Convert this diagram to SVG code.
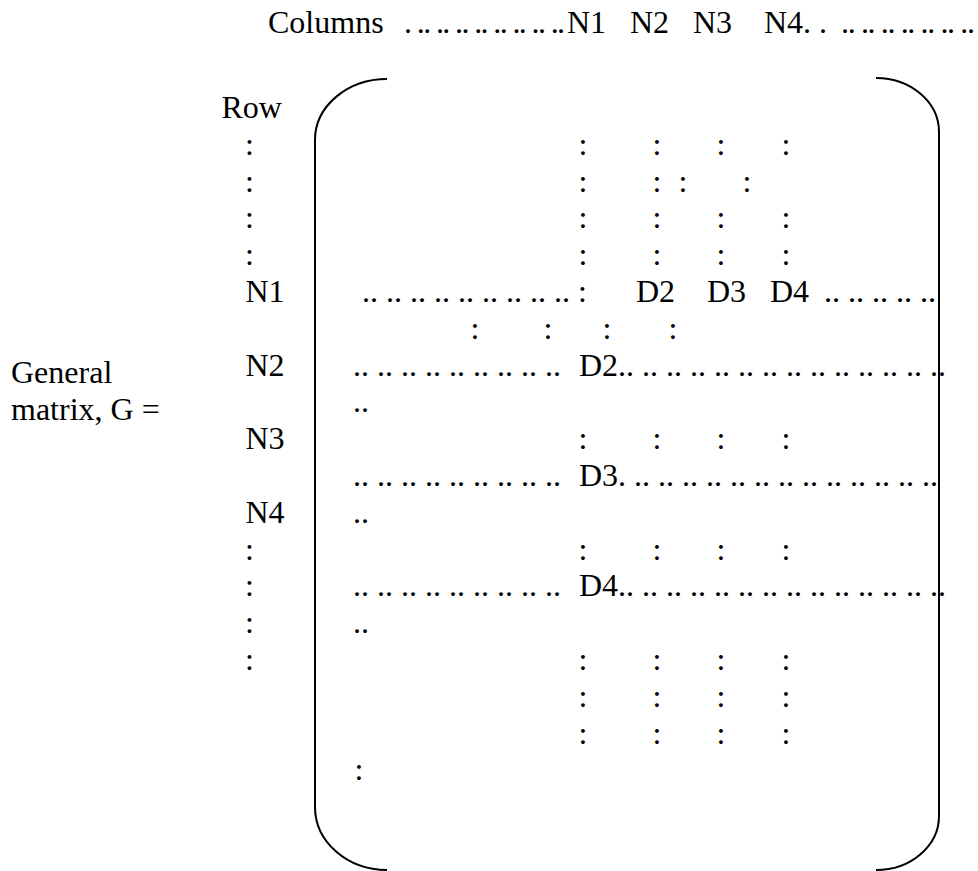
<svg xmlns="http://www.w3.org/2000/svg" width="978" height="871" viewBox="0 0 978 871">
<style>
text{font-family:"Liberation Serif","Times New Roman",serif;font-size:32px;fill:#000}
.br{fill:none;stroke:#000;stroke-width:2}
</style>
<rect width="978" height="871" fill="#fff"/>
<g id="header">
<text x="268" y="33">Columns</text>
<text x="404" y="33" textLength="161" lengthAdjust="spacing">. .. .. .. .. .. .. .. ..</text>
<text x="567" y="33">N1</text>
<text x="630" y="33">N2</text>
<text x="693" y="33">N3</text>
<text x="764" y="33">N4. .</text>
<text x="841" y="33" textLength="134" lengthAdjust="spacing">.. .. .. .. .. .. ..</text>
</g>
<g id="label">
<text x="11" y="383.2">General</text>
<text x="11" y="420">matrix, G =</text>
</g>
<g id="row-labels">
<text x="221.5" y="118">Row</text>
<text x="245" y="154.8">:</text>
<text x="245" y="191.6">:</text>
<text x="245" y="228.4">:</text>
<text x="245" y="265.2">:</text>
<text x="245.5" y="302">N1</text>
<text x="245.5" y="375.6">N2</text>
<text x="245.5" y="449.2">N3</text>
<text x="245.5" y="522.8">N4</text>
<text x="245" y="559.6">:</text>
<text x="245" y="596.4">:</text>
<text x="245" y="633.2">:</text>
<text x="245" y="670">:</text>
</g>
<g id="bracket">
<path class="br" d="M387 79 A72 61 0 0 0 315 140 L315 807 A72 63 0 0 0 387 870"/>
<path class="br" d="M876 78 A63 54 0 0 1 939 132 L939 816 A63 54 0 0 1 876 870"/>
</g>
<g id="matrix">
<text x="578.6" y="154.8">:</text><text x="652.6" y="154.8">:</text><text x="716.6" y="154.8">:</text><text x="781.6" y="154.8">:</text>
<text x="578.6" y="191.6">:</text><text x="652.6" y="191.6">:</text><text x="678.6" y="191.6">:</text><text x="742.6" y="191.6">:</text>
<text x="578.6" y="228.4">:</text><text x="652.6" y="228.4">:</text><text x="716.6" y="228.4">:</text><text x="781.6" y="228.4">:</text>
<text x="578.6" y="265.2">:</text><text x="652.6" y="265.2">:</text><text x="716.6" y="265.2">:</text><text x="781.6" y="265.2">:</text>
<text x="362" y="302">.. .. .. .. .. .. .. .. .. :</text>
<text x="636" y="302">D2</text>
<text x="707" y="302">D3</text>
<text x="770" y="302">D4</text>
<text x="824" y="302">.. .. .. .. ..</text>
<text x="470.6" y="338.8">:</text><text x="543.6" y="338.8">:</text><text x="602.6" y="338.8">:</text><text x="668.6" y="338.8">:</text>
<text x="353" y="375.6">.. .. .. .. .. .. .. .. ..</text>
<text x="579" y="375.6">D2.. .. .. .. .. .. .. .. .. .. .. .. .. ..</text>
<text x="353" y="412.4">..</text>
<text x="578.6" y="449.2">:</text><text x="652.6" y="449.2">:</text><text x="716.6" y="449.2">:</text><text x="781.6" y="449.2">:</text>
<text x="353" y="486">.. .. .. .. .. .. .. .. ..</text>
<text x="579" y="486">D3. .. .. .. .. .. .. .. .. .. .. .. .. ..</text>
<text x="353" y="522.8">..</text>
<text x="578.6" y="559.6">:</text><text x="652.6" y="559.6">:</text><text x="716.6" y="559.6">:</text><text x="781.6" y="559.6">:</text>
<text x="353" y="596.4">.. .. .. .. .. .. .. .. ..</text>
<text x="579" y="596.4">D4.. .. .. .. .. .. .. .. .. .. .. .. .. ..</text>
<text x="353" y="633.2">..</text>
<text x="578.6" y="670">:</text><text x="652.6" y="670">:</text><text x="716.6" y="670">:</text><text x="781.6" y="670">:</text>
<text x="578.6" y="706.8">:</text><text x="652.6" y="706.8">:</text><text x="716.6" y="706.8">:</text><text x="781.6" y="706.8">:</text>
<text x="578.6" y="743.6">:</text><text x="652.6" y="743.6">:</text><text x="716.6" y="743.6">:</text><text x="781.6" y="743.6">:</text>
<text x="354.6" y="780.4">:</text>
</g>
</svg>
